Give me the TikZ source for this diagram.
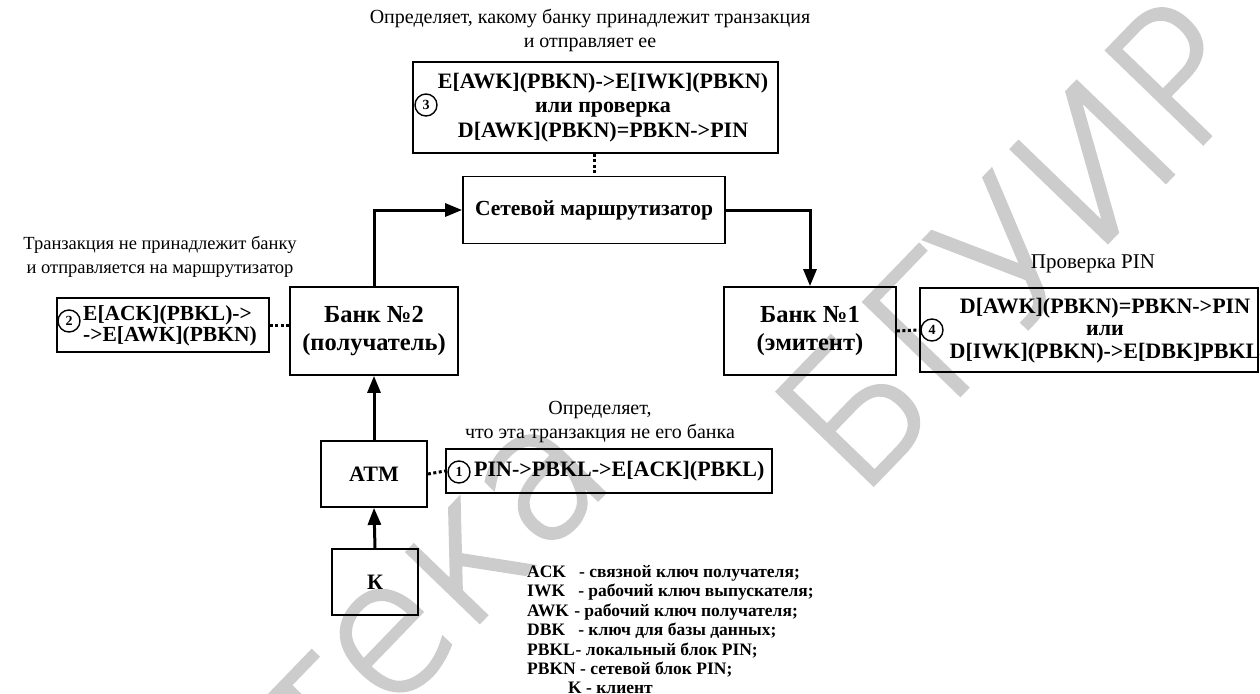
\documentclass[tikz,border=0pt]{standalone}
\usepackage{fontspec}
\setmainfont{Liberation Serif}
\newfontfamily\wmfont{DejaVu Sans ExtraLight}[FakeBold=2.5]
\usetikzlibrary{arrows.meta}
\begin{document}
\begin{tikzpicture}[x=1pt,y=-1pt,
  box/.style={draw, line width=1.8pt, inner sep=0pt},
  bt/.style={font=\fontsize{22}{24.5}\selectfont\bfseries, align=center, inner sep=0pt},
  bank/.style={box, font=\fontsize{24.5}{28}\selectfont\bfseries, align=center},
  note/.style={font=\fontsize{20}{24}\selectfont, align=center, inner sep=0pt},
  num/.style={circle, draw, line width=1.4pt, minimum size=22pt, inner sep=0pt,
              font=\fontsize{14}{14}\selectfont\bfseries},
  flow/.style={line width=3pt, -{Triangle[length=17pt,width=13pt]}},
  link/.style={line width=3pt, dash pattern=on 3pt off 2.5pt},
  lg/.style={font=\fontsize{17.5}{20}\selectfont\bfseries, inner sep=0pt, anchor=base west},
  wm/.style={text=black!20, font=\wmfont\fontsize{182}{182}\selectfont, inner sep=0pt}
]
\useasboundingbox (0,0) rectangle (1260,693);
\fill[white] (0,0) rectangle (1260,693);

% watermark
\node[wm, rotate=46, anchor=base east] (wmlib) at (618,478) {Библиотека};
\node[wm, rotate=46, anchor=base west] (wmbsuir) at (858,500) {БГУИР};

% boxes with their texts
\node[box, minimum width=365, minimum height=91] (box3) at (595.5,107.5) {};
\node[bt] (t3) at (603,107.5) {E[AWK](PBKN)->E[IWK](PBKN)\\или проверка\\D[AWK](PBKN)=PBKN->PIN};
\node[num] (n3) at (426,105) {3};

\node[box, minimum width=262, minimum height=67, font=\fontsize{21.5}{24}\selectfont\bfseries] (router) at (594,210) {Сетевой маршрутизатор};

\node[box, minimum width=212, minimum height=54] (box2) at (163,325) {};
\node[bt, align=left, font=\fontsize{21.5}{21.5}\selectfont\bfseries, anchor=west] (t2) at (83,326) {E[ACK](PBKL)->\\->E[AWK](PBKN)};
\node[num] (n2) at (69,321) {2};

\node[bank, minimum width=168, minimum height=88] (bank2) at (374,331) {Банк №2\\(получатель)};
\node[bank, minimum width=172, minimum height=88] (bank1) at (810,331) {Банк №1\\(эмитент)};

\node[box, minimum width=338, minimum height=84] (box4) at (1089,330) {};
\node[bt, font=\fontsize{22}{22.5}\selectfont\bfseries] (t4) at (1105,330.5) {D[AWK](PBKN)=PBKN->PIN\\или\\D[IWK](PBKN)->E[DBK]PBKL};
\node[num] (n4) at (932,330) {4};

\node[box, minimum width=106, minimum height=66, font=\fontsize{22}{24}\selectfont\bfseries] (atm) at (374,474) {ATM};
\node[box, minimum width=86, minimum height=66, font=\fontsize{22}{24}\selectfont\bfseries] (client) at (375,582) {К};

\node[box, minimum width=326, minimum height=44] (box1) at (609,471) {};
\node[bt, anchor=west] (t1) at (474,471) {PIN->PBKL->E[ACK](PBKL)};
\node[num] (n1) at (459,472) {1};

% notes
\node[note] (notetop) at (590,30) {Определяет, какому банку принадлежит транзакция\\и отправляет ее};
\node[note, font=\fontsize{18.5}{24}\selectfont] (noteleft) at (160,257) {Транзакция не принадлежит банку\\и отправляется на маршрутизатор};
\node[note, font=\fontsize{21}{24}\selectfont] (notepin) at (1093,264) {Проверка PIN};
\node[note] (noteatm) at (600,422) {Определяет,\\что эта транзакция не его банка};

% legend
\node[lg] (lg1) at (527,577) {ACK\hspace{0.75em}- связной ключ получателя;};
\node[lg] (lg2) at (527,596.5) {IWK\hspace{0.75em}- рабочий ключ выпускателя;};
\node[lg] (lg3) at (527,616) {AWK\hspace{0.3em}- рабочий ключ получателя;};
\node[lg] (lg4) at (527,635.5) {DBK\hspace{0.75em}- ключ для базы данных;};
\node[lg] (lg5) at (527,655) {PBKL\hspace{0.05em}- локальный блок PIN;};
\node[lg] (lg6) at (527,674.5) {PBKN - сетевой блок PIN;};
\node[lg] (lg7) at (568,693) {K - клиент};

% flow arrows
\draw[flow] (client.north) -- (atm.south);
\draw[flow] (atm.north) -- (bank2.south);
\draw[flow] (bank2.north) |- (router.west);
\draw[flow] (router.east) -| (bank1.north);

% dotted links
\draw[link] (router.north |- box3.south) -- (router.north);
\draw[link] (box2.east) -- (box2.east -| bank2.west);
\draw[link] (bank1.east) -- (box4.west);
\draw[link] (atm.east) -- (box1.west);
\end{tikzpicture}
\end{document}
